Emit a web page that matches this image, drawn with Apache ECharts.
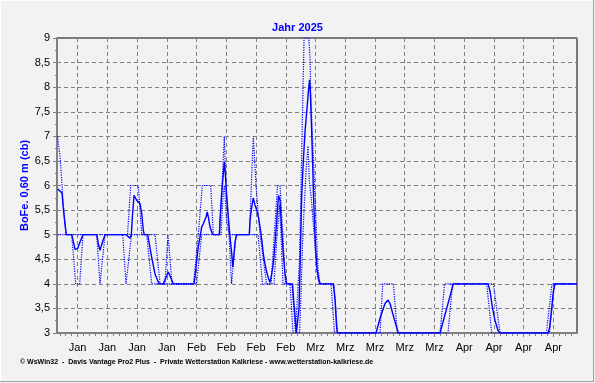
<!DOCTYPE html>
<html><head><meta charset="utf-8">
<script src="https://cdn.jsdelivr.net/npm/echarts@6/dist/echarts.min.js"></script>
<style>html,body{margin:0;padding:0;background:#f2f2f2}#c{width:595px;height:383px}</style>
</head><body><div id="c"></div>
<script>
// x = days since 1 Jan 2025 00:00
const weekTicks  = [5,12,19,26,33,40,47,54,61,68,75,82,89,96,103,110,117];
const weekLabels = ['Jan','Jan','Jan','Jan','Feb','Feb','Feb','Feb','Mrz','Mrz','Mrz','Mrz','Mrz','Apr','Apr','Apr','Apr'];

const meanDays = [0.32,1.33,1.56,1.92,2.34,3.61,4.03,4.39,5.02,5.56,6.27,9.50,9.92,10.27,10.86,11.45,16.39,17.34,17.64,17.92,18.28,18.91,19.69,20.09,20.47,20.70,21.50,22.44,23.22,24.16,25.17,26.35,27.53,32.40,32.64,33.04,33.41,33.81,34.21,34.59,35.23,35.53,35.77,36.17,36.57,36.94,38.36,38.52,38.92,39.30,39.53,39.77,40.10,40.47,40.88,41.28,41.51,41.82,42.05,42.45,45.42,45.58,45.98,46.36,46.76,47.16,47.54,47.94,48.34,48.71,49.11,49.51,49.89,50.29,50.69,51.07,51.47,51.87,52.29,52.65,53.05,53.42,53.82,54.22,55.59,55.82,56.18,56.48,56.88,57.12,57.35,57.75,58.13,58.53,58.93,59.31,59.59,59.78,60.06,60.34,60.53,60.77,61.05,61.36,61.71,62.06,65.19,65.59,65.95,66.13,75.24,76.19,77.36,78.07,78.54,79.48,80.49,90.31,93.44,101.61,102.08,102.67,103.26,103.96,104.43,115.73,116.09,116.60,116.98,117.38,122.55];
const meanVals = [5.93,5.85,5.6,5.3,5.0,5.0,4.85,4.7,4.72,4.85,5.0,5.0,4.8,4.68,4.85,5.0,5.0,4.93,5.0,5.4,5.8,5.7,5.63,5.43,5.08,5.0,5.0,4.54,4.2,4.0,4.0,4.24,4.0,4.0,4.14,4.48,4.75,4.95,5.16,5.22,5.36,5.46,5.36,5.16,5.05,5.0,5.0,5.29,5.84,6.24,6.48,6.24,5.77,5.36,4.95,4.61,4.34,4.61,4.85,5.0,5.0,5.29,5.56,5.75,5.6,5.5,5.36,5.16,4.9,4.61,4.4,4.24,4.12,4.03,4.2,4.41,4.82,5.29,5.8,5.7,5.09,4.61,4.2,4.0,4.0,3.7,3.35,3.0,3.0,3.5,4.3,5.8,6.5,7.1,7.5,7.9,8.15,7.9,7.2,6.4,5.8,5.2,4.7,4.3,4.1,4.0,4.0,3.68,3.14,3.0,3.0,3.3,3.6,3.67,3.6,3.3,3.0,3.0,4.0,4.0,3.85,3.5,3.25,3.05,3.0,3.0,3.1,3.5,3.85,4.0,4.0];

const maxDays = [0.27,0.86,1.26,1.56,2.27,16.75,17.50,19.29,20.09,23.22,24.40,25.57,26.28,27.22,32.28,33.41,34.35,36.33,36.94,38.36,38.99,39.53,39.93,40.71,45.42,46.36,47.00,47.94,48.41,49.47,50.53,52.06,52.65,53.94,55.47,56.29,56.65,57.24,57.59,57.99,58.30,59.40,59.71,59.87,60.18,60.48,60.88,61.24,61.59,62.06,65.36,66.18,76.19,76.82,79.32,80.26,90.31,91.37,102.86,104.43,115.33,116.67,122.55];
const maxVals = [7.0,6.6,6.1,5.7,5.0,5.0,6.0,6.0,5.0,5.0,4.0,4.0,5.0,4.0,4.0,5.0,6.0,6.0,5.0,5.0,6.0,7.0,6.0,5.0,5.0,7.0,6.0,5.0,5.0,4.0,4.0,6.0,6.0,4.0,4.0,3.0,3.0,4.5,6.0,7.7,9.0,9.0,8.6,7.9,7.2,6.6,5.8,5.0,4.3,4.0,4.0,3.0,3.0,4.0,4.0,3.0,3.0,4.0,4.0,3.0,3.0,4.0,4.0];

const minDays = [0.27,3.61,4.55,5.49,6.27,9.50,10.27,10.44,11.45,15.62,16.39,16.86,17.69,21.27,22.44,32.99,34.21,38.76,39.23,39.58,40.05,40.64,41.23,41.58,42.29,47.47,48.53,51.23,51.94,52.53,52.88,53.35,55.00,55.71,57.24,57.59,57.94,58.30,58.77,59.24,59.54,59.94,60.41,60.77,61.24,61.83,64.65,65.47,92.19,93.25,101.30,102.48,116.04,117.26,122.55];
const minVals = [5.0,5.0,4.0,4.0,5.0,5.0,4.0,4.0,5.0,5.0,4.0,4.0,5.0,5.0,4.0,4.0,5.0,5.0,5.8,6.0,5.3,5.0,4.0,4.0,5.0,5.0,4.0,4.0,5.0,5.6,5.0,4.0,4.0,3.0,3.0,3.8,4.8,5.5,6.3,6.8,6.1,5.8,5.3,4.9,4.3,4.0,4.0,3.0,3.0,4.0,4.0,3.0,3.0,4.0,4.0];

const zip = (a, b) => a.map((d, i) => [d, b[i]]);
// minor x ticks: 4 between each pair of weekly ticks
const minorStep = 7 / 5;
const minorTicks = [];
for (let t = weekTicks[0] - minorStep * 4; t < 122.5; t += minorStep) {
  if (t > 0.2) minorTicks.push(+t.toFixed(3));
}
const FONT = 'Liberation Sans, Arial, sans-serif';
const XMIN = 0.15, XMAX = 122.55;
const chart = echarts.init(document.getElementById('c'), null, {renderer: 'canvas'});
chart.setOption({
  backgroundColor: '#f2f2f2',
  animation: false,
  title: {
    text: 'Jahr 2025', left: 'center', top: 17,
    textStyle: {color: '#0000ff', fontSize: 11, fontWeight: 'bold', fontFamily: FONT}
  },
  grid: {left: 57, right: 18, top: 38, bottom: 50, show: true, borderColor: '#000', borderWidth: 1, backgroundColor: '#f2f2f2'},
  xAxis: [{
    type: 'value', min: XMIN, max: XMAX, position: 'bottom',
    axisLine: {show: true, lineStyle: {color: '#808080', width: 2}},
    axisTick: {show: true, customValues: weekTicks, length: 4, lineStyle: {color: '#808080'}},
    axisLabel: {customValues: weekTicks, color: '#000', fontSize: 11, fontFamily: FONT, margin: 9,
      formatter: v => weekLabels[weekTicks.indexOf(v)] || ''},
    splitLine: {show: true, lineStyle: {color: '#808080', type: [4, 3], width: 1}}
  }, {
    type: 'value', min: XMIN, max: XMAX, position: 'bottom', offset: 0,
    axisLine: {show: false},
    axisTick: {show: true, customValues: minorTicks, length: 3, lineStyle: {color: '#808080'}},
    axisLabel: {show: false},
    splitLine: {show: false}
  }],
  yAxis: {
    type: 'value', min: 3, max: 9, interval: 0.5,
    name: 'BoFe. 0,60 m (cb)', nameLocation: 'middle', nameRotate: 90, nameGap: 27,
    nameMoveOverlap: false,
    nameTextStyle: {color: '#0000ff', fontSize: 11, fontWeight: 'bold', fontFamily: FONT},
    axisLine: {show: true, lineStyle: {color: '#808080', width: 2}},
    axisTick: {show: true, length: 4, lineStyle: {color: '#808080'}},
    minorTick: {show: true, splitNumber: 2, length: 2, lineStyle: {color: '#808080'}},
    axisLabel: {color: '#000', fontSize: 11, fontFamily: FONT, margin: 7,
      formatter: v => String(v).replace('.', ',')},
    splitLine: {show: true, lineStyle: {color: '#808080', type: [4, 3], width: 1}}
  },
  series: [
    {type: 'line', name: 'Max', data: zip(maxDays, maxVals), showSymbol: false, symbol: 'none',
      lineStyle: {color: '#0000ff', width: 1.2, type: [1.2, 1.2]}, z: 3},
    {type: 'line', name: 'Min', data: zip(minDays, minVals), showSymbol: false, symbol: 'none',
      lineStyle: {color: '#0000ff', width: 1.2, type: [1.2, 1.2]}, z: 3},
    {type: 'line', name: 'Mittel', data: zip(meanDays, meanVals), showSymbol: false, symbol: 'none',
      lineStyle: {color: '#0000ff', width: 1.4}, z: 4}
  ],
  graphic: [
    {type: 'text', left: 20, top: 359, style: {text: '© WsWin32  -  Davis Vantage Pro2 Plus  -  Private Wetterstation Kalkriese - www.wetterstation-kalkriese.de', fill: '#000', font: 'bold 7px ' + FONT}},
    {type: 'line', shape: {x1: 0, y1: 381.5, x2: 594, y2: 381.5}, style: {stroke: '#a0a0a0', lineWidth: 1}},
    {type: 'line', shape: {x1: 593.5, y1: 0, x2: 593.5, y2: 382}, style: {stroke: '#a0a0a0', lineWidth: 1}},
    {type: 'line', shape: {x1: 0, y1: 0.5, x2: 593, y2: 0.5}, style: {stroke: '#ffffff', lineWidth: 1}},
    {type: 'line', shape: {x1: 0.5, y1: 0, x2: 0.5, y2: 381}, style: {stroke: '#ffffff', lineWidth: 1}}
  ]
});
</script></body></html>
